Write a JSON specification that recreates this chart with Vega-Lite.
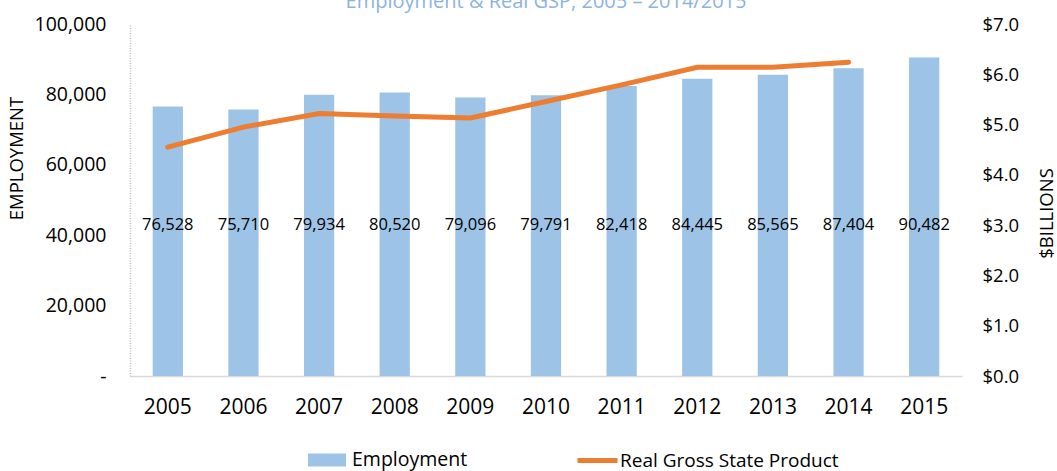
{
  "$schema": "https://vega.github.io/schema/vega-lite/v6.json",
  "width": 832,
  "height": 352,
  "autosize": {"type": "none"},
  "padding": {"left": 130, "top": 24, "right": 95, "bottom": 95},
  "background": "white",
  "title": {
    "text": "Employment & Real GSP, 2005 – 2014/2015",
    "font": "Open Sans",
    "fontSize": 20,
    "fontWeight": "normal",
    "color": "#8DB3E2",
    "anchor": "middle",
    "frame": "group",
    "baseline": "alphabetic",
    "offset": -14
  },
  "config": {
    "view": {"stroke": null},
    "font": "Open Sans"
  },
  "data": {
    "values": [
      {"year": "2005", "employment": 76528, "gsp": 4.55},
      {"year": "2006", "employment": 75710, "gsp": 4.95},
      {"year": "2007", "employment": 79934, "gsp": 5.22},
      {"year": "2008", "employment": 80520, "gsp": 5.17},
      {"year": "2009", "employment": 79096, "gsp": 5.13},
      {"year": "2010", "employment": 79791, "gsp": 5.46},
      {"year": "2011", "employment": 82418, "gsp": 5.79},
      {"year": "2012", "employment": 84445, "gsp": 6.14},
      {"year": "2013", "employment": 85565, "gsp": 6.14},
      {"year": "2014", "employment": 87404, "gsp": 6.24},
      {"year": "2015", "employment": 90482, "gsp": null}
    ]
  },
  "encoding": {
    "x": {
      "field": "year",
      "type": "ordinal",
      "scale": {"paddingInner": 0.6, "paddingOuter": 0.3},
      "axis": {
        "title": null,
        "labelAngle": 0,
        "labelFont": "Open Sans",
        "labelFontSize": 21,
        "labelColor": "#000000",
        "labelPadding": 20,
        "ticks": false,
        "domainColor": "#D9D9D9",
        "domainWidth": 1.5
      }
    }
  },
  "layer": [
    {
      "layer": [
        {
          "mark": {"type": "bar", "color": "#9DC3E6"},
          "encoding": {
            "y": {
              "field": "employment",
              "type": "quantitative",
              "scale": {"domain": [0, 100000], "nice": false},
              "axis": {
                "title": "EMPLOYMENT",
                "titleFont": "Open Sans",
                "titleFontSize": 18.5,
                "titleFontWeight": "normal",
                "titleColor": "#000000",
                "titlePadding": 8,
                "titleY": 134,
                "values": [0, 20000, 40000, 60000, 80000, 100000],
                "labelExpr": "datum.value == 0 ? '-' : format(datum.value, ',')",
                "labelFont": "Open Sans",
                "labelFontSize": 19.5,
                "labelColor": "#000000",
                "labelPadding": 24,
                "ticks": false,
                "grid": false,
                "domainColor": "#BFBFBF",
                "domainDash": [1, 1.5],
                "domainWidth": 1.5
              }
            },
            "fill": {
              "datum": "Employment",
              "type": "nominal",
              "scale": {"range": ["#9DC3E6"]},
              "legend": {
                "orient": "none",
                "legendX": 178,
                "legendY": 417,
                "direction": "horizontal",
                "title": null,
                "padding": 0,
                "symbolType": "M-1,-0.34H1V0.34H-1Z",
                "symbolSize": 1444,
                "symbolStrokeWidth": 0,
                "symbolOpacity": 1,
                "labelFont": "Open Sans",
                "labelFontSize": 19.5,
                "labelColor": "#000000",
                "labelOffset": 6,
                "labelLimit": 400
              }
            }
          }
        },
        {
          "mark": {"type": "text", "font": "Open Sans", "fontSize": 16.5, "color": "#000000"},
          "encoding": {
            "y": {"datum": 43000, "type": "quantitative"},
            "text": {"field": "employment", "type": "quantitative", "format": ","}
          }
        }
      ]
    },
    {
      "mark": {"type": "line", "color": "#ED7D31", "strokeWidth": 5, "strokeCap": "round"},
      "encoding": {
        "y": {
          "field": "gsp",
          "type": "quantitative",
          "scale": {"domain": [0, 7], "nice": false},
          "axis": {
            "orient": "right",
            "title": "$BILLIONS",
            "titleAngle": -90,
            "titleFont": "Open Sans",
            "titleFontSize": 18.5,
            "titleFontWeight": "normal",
            "titleColor": "#000000",
            "titlePadding": 38,
            "titleY": 189,
            "values": [0, 1, 2, 3, 4, 5, 6, 7],
            "format": "$.1f",
            "labelFont": "Open Sans",
            "labelFontSize": 18.5,
            "labelColor": "#000000",
            "labelPadding": 20,
            "ticks": false,
            "grid": false,
            "domain": false
          }
        },
        "stroke": {
          "datum": "Real Gross State Product",
          "type": "nominal",
          "scale": {"range": ["#ED7D31"]},
          "legend": {
            "orient": "none",
            "legendX": 445,
            "legendY": 414,
            "direction": "horizontal",
            "title": null,
            "padding": 0,
            "symbolType": "stroke",
            "symbolSize": 1600,
            "symbolStrokeWidth": 5,
            "labelFont": "Open Sans",
            "labelFontSize": 19,
            "labelColor": "#000000",
            "labelOffset": 0,
            "labelLimit": 400
          }
        }
      }
    }
  ],
  "resolve": {"scale": {"y": "independent", "fill": "independent", "stroke": "independent"}}
}
